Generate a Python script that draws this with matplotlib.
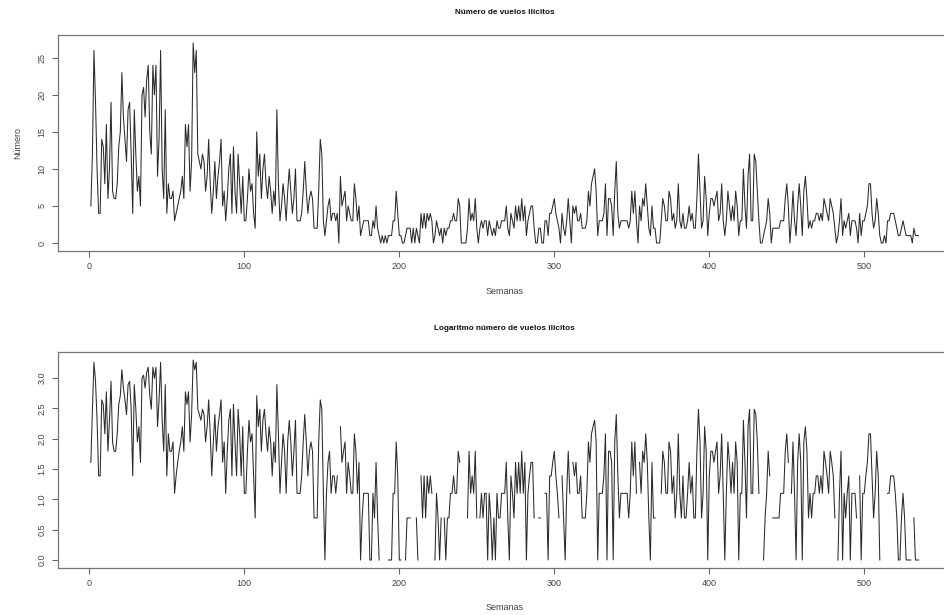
import numpy as np
import matplotlib.pyplot as plt

# Numero semanal de vuelos ilicitos, semanas 1..535
vuelos = [
    5, 12, 26, 19, 10, 4, 4, 14, 13, 8, 16, 6, 10, 19, 7, 6, 6, 8, 13, 15,
    23, 17, 14, 11, 18, 19, 12, 4, 18, 12, 7, 9, 5, 20, 21, 17, 22, 24, 15, 12,
    24, 20, 24, 9, 14, 26, 10, 6, 18, 4, 8, 6, 6, 7, 3, 4, 5, 6, 7, 9,
    6, 16, 13, 16, 7, 11, 27, 23, 26, 12, 11, 10, 12, 11, 7, 9, 14, 8, 4, 7,
    11, 6, 9, 11, 14, 5, 7, 3, 6, 10, 12, 4, 13, 7, 4, 12, 8, 4, 9, 3,
    3, 6, 10, 7, 8, 4, 2, 15, 9, 12, 6, 10, 12, 8, 6, 9, 7, 4, 7, 5,
    18, 8, 3, 5, 8, 6, 3, 7, 10, 7, 4, 6, 10, 3, 3, 3, 4, 7, 11, 7,
    4, 6, 7, 6, 2, 2, 2, 7, 14, 12, 3, 1, 3, 5, 6, 3, 4, 4, 3, 4,
    0, 9, 5, 6, 7, 3, 5, 4, 3, 3, 8, 6, 3, 5, 1, 2, 3, 3, 3, 3,
    1, 1, 3, 2, 5, 2, 1, 0, 1, 0, 1, 0, 1, 1, 1, 3, 3, 7, 4, 1,
    1, 0, 0, 1, 2, 2, 2, 0, 2, 0, 2, 1, 0, 4, 2, 4, 2, 4, 3, 4,
    3, 0, 1, 3, 2, 1, 2, 0, 2, 1, 2, 2, 3, 3, 4, 3, 3, 6, 5, 0,
    0, 0, 0, 2, 6, 3, 4, 3, 6, 2, 0, 2, 3, 2, 3, 3, 1, 3, 2, 1,
    2, 1, 3, 2, 2, 3, 3, 3, 5, 2, 1, 4, 3, 2, 5, 3, 5, 3, 6, 3,
    5, 1, 3, 4, 5, 5, 2, 0, 0, 2, 2, 0, 0, 3, 3, 1, 4, 4, 5, 6,
    4, 3, 2, 0, 4, 2, 1, 3, 6, 3, 0, 5, 4, 5, 3, 3, 4, 2, 2, 2,
    3, 7, 5, 8, 9, 10, 7, 1, 3, 3, 3, 4, 8, 1, 6, 6, 5, 1, 7, 11,
    4, 2, 3, 3, 3, 3, 3, 2, 3, 7, 4, 7, 3, 0, 5, 3, 6, 5, 8, 5,
    2, 1, 5, 2, 2, 0, 0, 0, 3, 6, 5, 3, 3, 7, 6, 3, 4, 2, 3, 8,
    3, 2, 4, 2, 2, 3, 5, 3, 4, 2, 2, 6, 12, 7, 2, 3, 9, 6, 1, 4,
    6, 6, 5, 6, 7, 3, 4, 8, 3, 1, 3, 7, 5, 3, 5, 3, 7, 5, 1, 3,
    3, 10, 5, 2, 9, 12, 3, 3, 12, 11, 7, 3, 0, 0, 1, 2, 3, 6, 4, 0,
    2, 2, 2, 2, 2, 3, 3, 3, 6, 8, 5, 0, 3, 7, 3, 1, 5, 8, 5, 1,
    7, 9, 6, 2, 3, 2, 3, 3, 4, 4, 3, 4, 3, 6, 5, 4, 3, 6, 5, 4,
    2, 0, 1, 3, 6, 1, 3, 2, 3, 4, 1, 3, 3, 3, 2, 0, 4, 1, 3, 3,
    4, 5, 8, 8, 4, 2, 3, 6, 4, 1, 0, 0, 1, 0, 3, 3, 4, 4, 4, 3,
    2, 1, 1, 2, 3, 2, 1, 1, 1, 1, 0, 2, 1, 1, 1,
]

xticks = [0, 100, 200, 300, 400, 500]
yticks_num = [0, 5, 10, 15, 20, 25]
yticks_log = [0.0, 0.5, 1.0, 1.5, 2.0, 2.5, 3.0]
ytick_log_labels = ["0.0", "0.5", "1.0", "1.5", "2.0", "2.5", "3.0"]

vuelos = np.array(vuelos, dtype=float)
semanas = np.arange(1, len(vuelos) + 1)
# log(0) = -Inf -> hueco en la linea, como en R
log_vuelos = np.where(vuelos > 0, np.log(np.where(vuelos > 0, vuelos, 1)), np.nan)

plt.rcParams['font.family'] = ['Liberation Sans', 'DejaVu Sans']

W, H = 945, 615
fig = plt.figure(figsize=(W / 100, H / 100), dpi=100)

# ejes estilo R: el cuadro se sale un poco por la derecha
ax1 = fig.add_axes([57.7 / W, 1 - 251 / H, 894 / W, 216 / H])
ax2 = fig.add_axes([57.7 / W, 1 - 568 / H, 894 / W, 216 / H])

linecol = '#2a2a2a'
txtcol = '#444444'

ax1.plot(semanas, vuelos, color=linecol, linewidth=0.75)
ax2.plot(semanas, log_vuelos, color=linecol, linewidth=0.75)

ax1.set_xlim(-20.4, 556.4)
ax1.set_ylim(-1.08, 28.08)
ax2.set_xlim(-20.4, 556.4)
ax2.set_ylim(-0.132, 3.428)

for ax in (ax1, ax2):
    ax.set_xticks(xticks)
    ax.set_xticklabels([str(t) for t in xticks])
    ax.tick_params(direction='out', length=4, width=0.8, color='#666666',
                   labelsize=6.5, labelcolor=txtcol, pad=4)
    for s in ax.spines.values():
        s.set_color('#777777')
        s.set_linewidth(0.9)

ax1.set_yticks(yticks_num)
ax1.set_yticklabels([str(t) for t in yticks_num], rotation=90, va='center')
ax2.set_yticks(yticks_log)
ax2.set_yticklabels(ytick_log_labels, rotation=90, va='center')

fig.text(504.7 / W, 1 - 12 / H, "Número de vuelos ilícitos", ha='center',
         va='center', fontsize=5.9, fontweight='bold', color='#111111')
fig.text(504.7 / W, 1 - 329 / H, "Logaritmo número de vuelos ilícitos",
         ha='center', va='center', fontsize=5.9, fontweight='bold', color='#111111')
fig.text(504.7 / W, 1 - 291 / H, "Semanas", ha='center', va='center',
         fontsize=6.5, color=txtcol)
fig.text(504.7 / W, 1 - 607 / H, "Semanas", ha='center', va='center',
         fontsize=6.5, color=txtcol)
fig.text(18 / W, 1 - 143 / H, "Número", ha='center', va='center',
         rotation=90, fontsize=6.5, color=txtcol)

fig.savefig('out.png', dpi=100)
